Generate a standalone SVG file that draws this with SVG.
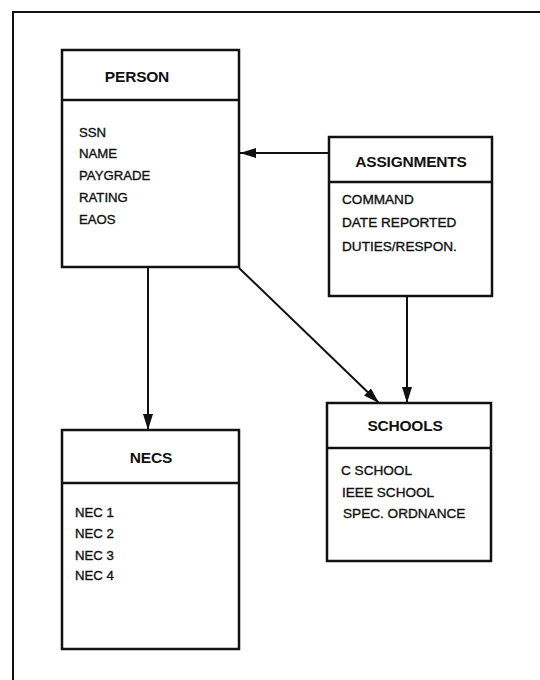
<svg xmlns="http://www.w3.org/2000/svg" width="540" height="680" viewBox="0 0 540 680">
<style>
.box{fill:#fff;stroke:#111;stroke-width:2.5}
.div{stroke:#111;stroke-width:2.5}
.frame{stroke:#111;stroke-width:2;fill:none}
.conn{stroke:#111;stroke-width:2;fill:none}
.title{font-family:"Liberation Sans",Arial,sans-serif;font-size:15.5px;font-weight:bold;fill:#111;text-anchor:middle;letter-spacing:-0.2px}
.item{font-family:"Liberation Sans",Arial,sans-serif;font-size:13.2px;fill:#111;stroke:#111;stroke-width:0.35}
.item2{font-family:"Liberation Sans",Arial,sans-serif;font-size:13.6px;fill:#111;stroke:#111;stroke-width:0.35}
</style>
<defs>
<marker id="arr" viewBox="0 0 16 10" refX="16" refY="5" markerWidth="16" markerHeight="10" markerUnits="userSpaceOnUse" orient="auto">
<path d="M0,0 L16,5 L0,10 Z" fill="#111"/>
</marker>
</defs>
<rect width="540" height="680" fill="#fff"/>
<path class="frame" d="M13,680 L13,12 L540,12"/>
<g id="connectors">
<line class="conn" x1="329" y1="153" x2="240" y2="153" marker-end="url(#arr)"/>
<line class="conn" x1="148" y1="268" x2="148" y2="430" marker-end="url(#arr)"/>
<line class="conn" x1="239" y1="268" x2="379" y2="403" marker-end="url(#arr)"/>
<line class="conn" x1="407" y1="296" x2="407" y2="403" marker-end="url(#arr)"/>
</g>
<g id="person">
<rect class="box" x="62" y="50" width="177" height="217"/>
<line class="div" x1="62" y1="100" x2="239" y2="100"/>
<text class="title" x="137" y="82">PERSON</text>
<text class="item" x="79" y="137">SSN</text>
<text class="item" x="79" y="158">NAME</text>
<text class="item" x="79" y="180">PAYGRADE</text>
<text class="item" x="79" y="202">RATING</text>
<text class="item" x="79" y="224">EAOS</text>
</g>
<g id="assignments">
<rect class="box" x="329" y="137" width="163" height="159"/>
<line class="div" x1="329" y1="182" x2="492" y2="182"/>
<text class="title" x="411" y="167">ASSIGNMENTS</text>
<text class="item2" x="342" y="204">COMMAND</text>
<text class="item2" x="342" y="227">DATE REPORTED</text>
<text class="item2" x="342" y="251">DUTIES/RESPON.</text>
</g>
<g id="necs">
<rect class="box" x="62" y="430" width="177" height="219"/>
<line class="div" x1="62" y1="483" x2="239" y2="483"/>
<text class="title" x="151" y="463">NECS</text>
<text class="item" x="75" y="517">NEC 1</text>
<text class="item" x="75" y="538">NEC 2</text>
<text class="item" x="75" y="560">NEC 3</text>
<text class="item" x="75" y="580">NEC 4</text>
</g>
<g id="schools">
<rect class="box" x="327" y="403" width="164" height="158"/>
<line class="div" x1="327" y1="448" x2="491" y2="448"/>
<text class="title" x="405" y="431">SCHOOLS</text>
<text class="item2" x="341" y="475">C SCHOOL</text>
<text class="item2" x="342" y="497">IEEE SCHOOL</text>
<text class="item2" x="343" y="518">SPEC. ORDNANCE</text>
</g>
</svg>
